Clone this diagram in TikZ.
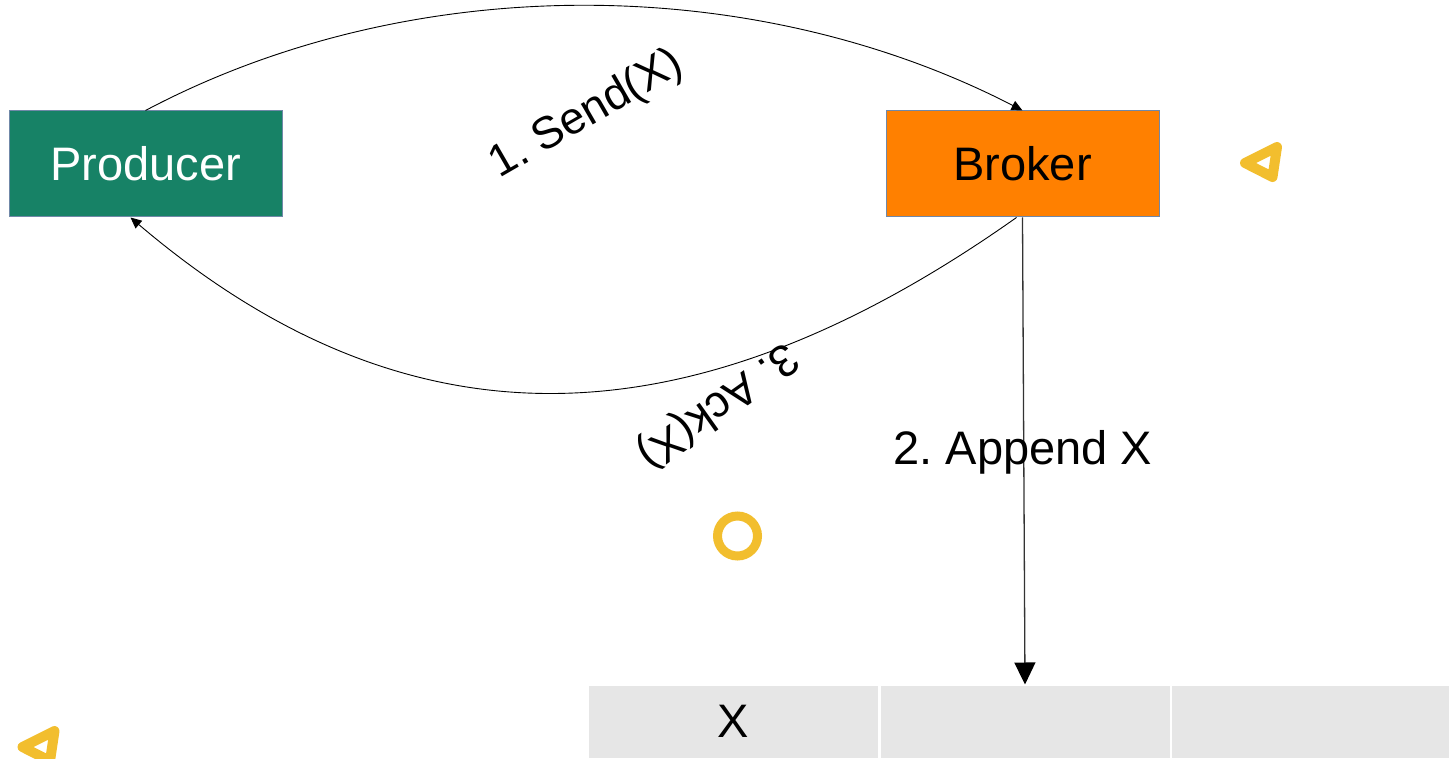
\documentclass[tikz,border=0pt]{standalone}
\usepackage{fontspec}
\setmainfont{Liberation Sans}
\usetikzlibrary{arrows.meta}
\frenchspacing

\definecolor{prodgreen}{HTML}{178266}
\definecolor{brokorange}{HTML}{FF8000}
\definecolor{boxedge}{HTML}{7088A8}
\definecolor{cellgray}{HTML}{E6E6E6}
\definecolor{mark}{HTML}{F2BE2E}

\tikzset{
  bigtext/.style={font=\fontsize{47}{56}\selectfont},
  lbltext/.style={font=\fontsize{45}{54}\selectfont, inner sep=0pt},
  actor/.style={rectangle, draw=boxedge, line width=1pt, minimum width=273pt,
    minimum height=106pt, inner sep=0pt, bigtext},
  logcell/.style={rectangle, fill=cellgray, draw=white, line width=1pt,
    minimum width=290pt, minimum height=73pt, inner sep=0pt, bigtext},
  msg/.style={line width=0.9pt, -{Triangle[length=11pt,width=10pt]}},
  appendarrow/.style={line width=1.3pt, draw=black!80,
    -{Triangle[length=22pt,width=21pt,color=black,fill=black]}},
  ringmark/.style={draw=mark, line width=9pt},
  trimark/.style={draw=mark, line width=10pt, line join=round},
}

\begin{document}
\begin{tikzpicture}[x=1pt,y=-1pt]
  \useasboundingbox (0,0) rectangle (1449,759);

  % participants
  \node[actor, fill=prodgreen, text=white] (producer) at (145.5,164) {Producer};
  \node[actor, fill=brokorange] (broker) at (1022.5,164) {Broker};

  % the log
  \node[logcell] (cell1) at (733.5,721.5) {X};
  \node[logcell] (cell2) at (1025,721.5) {};
  \node[logcell] (cell3) at (1316,721.5) {};

  % messages
  \draw[msg] (producer.north) .. controls (411,-30) and (754,-28) .. (broker.north);
  \draw[msg] ([xshift=-6pt]broker.south) .. controls (686,451) and (405,451)
    .. ([xshift=-15pt]producer.south);
  \draw[appendarrow] (broker.south) -- (cell2.north);

  % labels
  \node[lbltext, rotate=30] (sendlbl) at (587,115) {1. Send(X)};
  \node[lbltext, rotate=215.4] (acklbl) at (717,405) {3. Ack(X)};
  \node[bigtext, inner sep=0pt] (appendlbl) at (1023,452) {2. Append X};

  % decorative marks
  \draw[ringmark] (737.5,536) circle[radius=20];
  \draw[trimark] (1245,163) -- (1277,147) -- (1272.5,177) -- cycle;
  \draw[trimark] (22.5,747) -- (54.5,731) -- (50,761) -- cycle;
\end{tikzpicture}
\end{document}
